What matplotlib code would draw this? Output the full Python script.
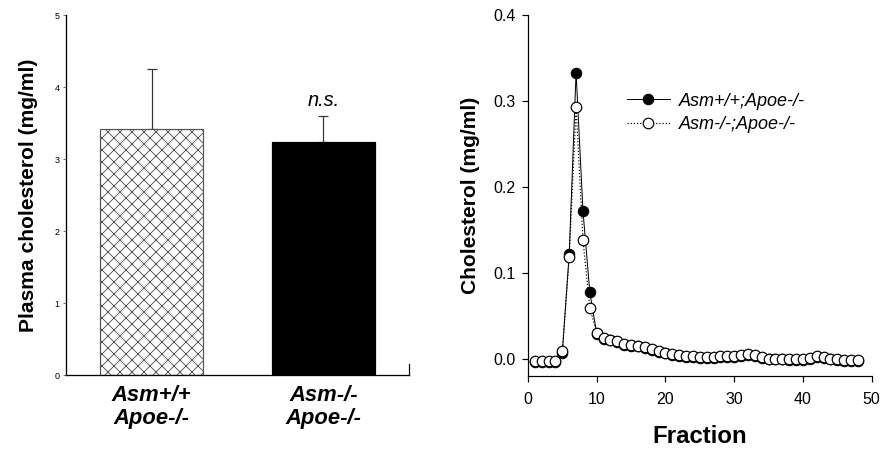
# Plasma cholesterol bar chart + FPLC fraction profile
import matplotlib.pyplot as plt

plt.rcParams['font.family'] = ['Liberation Sans', 'DejaVu Sans']
plt.rcParams['hatch.linewidth'] = 0.9

# data - left panel
groups = ['Asm+/+\nApoe-/-', 'Asm-/-\nApoe-/-']
plasma_mean = [3.42, 3.24]
plasma_err = [0.83, 0.36]

# data - right panel
fractions = list(range(1, 49))
chol_wt = [-0.004, -0.004, -0.004, -0.004, 0.007, 0.122, 0.333, 0.172, 0.077, 0.029,
           0.023, 0.021, 0.019, 0.016, 0.015, 0.014, 0.012, 0.010, 0.008, 0.006,
           0.004, 0.003, 0.002, 0.002, 0.001, 0.001, 0.001, 0.002, 0.002, 0.002,
           0.003, 0.004, 0.003, 0.001, -0.001, -0.001, -0.001, -0.002, -0.002, -0.002,
           0.000, 0.002, 0.001, -0.001, -0.002, -0.003, -0.003, -0.003]
chol_ko = [-0.003, -0.003, -0.003, -0.003, 0.009, 0.118, 0.293, 0.138, 0.059, 0.030,
           0.024, 0.022, 0.020, 0.017, 0.016, 0.015, 0.013, 0.011, 0.009, 0.007,
           0.005, 0.004, 0.003, 0.003, 0.002, 0.002, 0.002, 0.003, 0.003, 0.003,
           0.004, 0.005, 0.004, 0.002, 0.000, 0.000, 0.000, -0.001, -0.001, -0.001,
           0.001, 0.003, 0.002, 0.000, -0.001, -0.002, -0.002, -0.002]

fig = plt.figure(figsize=(882 / 72, 455 / 72), dpi=72)

# ---- left panel ----
ax1 = fig.add_axes([0.0748, 0.1758, 0.389, 0.791])
ax1.bar([0, 1], plasma_mean, width=0.6, color=['white', 'black'], edgecolor=['#555555', 'black'],
        hatch=['xx', ''], linewidth=1.2, zorder=2)
ax1.errorbar([0, 1], plasma_mean, yerr=[[0, 0], plasma_err], fmt='none', ecolor='#333333',
             elinewidth=1.2, capsize=5, capthick=1.2, zorder=1)
ax1.text(1, 3.82, 'n.s.', ha='center', va='center', fontsize=20, style='italic')
ax1.set_xlim(-0.5, 1.5)
ax1.set_ylim(0, 5)
ax1.set_yticks([0, 1, 2, 3, 4, 5])
ax1.set_xticks([0, 1])
ax1.set_xticklabels(groups, fontsize=22, fontweight='bold', style='italic', linespacing=1.1)
ax1.tick_params(axis='x', length=0, pad=10)
ax1.tick_params(axis='y', labelsize=9, direction='out', length=3, width=1.0, color='#777777')
ax1.set_ylabel('Plasma cholesterol (mg/ml)', fontsize=21, fontweight='bold', labelpad=16)
ax1.spines['top'].set_visible(False)
ax1.spines['right'].set_visible(False)
for s in ['left', 'bottom']:
    ax1.spines[s].set_linewidth(1.3)
ax1.plot([1, 1], [0, 0.03], transform=ax1.transAxes, color='black', lw=1.2, clip_on=False)

# ---- right panel ----
ax2 = fig.add_axes([0.5986, 0.1743, 0.3897, 0.7927])
ax2.plot(fractions, chol_wt, '-', color='black', lw=1.0, marker='o', markersize=10.5,
         markerfacecolor='black', markeredgecolor='black', label='Asm+/+;Apoe-/-', zorder=2)
ax2.plot(fractions, chol_ko, ':', color='black', lw=1.2, marker='o', markersize=10.5,
         markerfacecolor='white', markeredgecolor='black', markeredgewidth=1.2,
         label='Asm-/-;Apoe-/-', zorder=3)
ax2.set_xlim(0, 50)
ax2.set_ylim(-0.02, 0.4)
ax2.set_xticks([0, 10, 20, 30, 40, 50])
ax2.set_yticks([0.0, 0.1, 0.2, 0.3, 0.4])
ax2.set_yticklabels(['0.0', '0.1', '0.2', '0.3', '0.4'])
ax2.tick_params(labelsize=16, direction='out', length=6, width=1.2)
ax2.tick_params(axis='x', pad=10)
ax2.tick_params(axis='y', pad=6)
ax2.set_xlabel('Fraction', fontsize=24, fontweight='bold', labelpad=18)
ax2.set_ylabel('Cholesterol (mg/ml)', fontsize=21, fontweight='bold', labelpad=14)
ax2.spines['top'].set_visible(False)
ax2.spines['right'].set_visible(False)
for s in ['left', 'bottom']:
    ax2.spines[s].set_linewidth(1.2)
leg = ax2.legend(loc='upper left', bbox_to_anchor=(0.24, 0.83), frameon=False,
                 prop={'style': 'italic', 'size': 18}, handlelength=2.4, handletextpad=0.5,
                 labelspacing=0.35)

fig.savefig('out.png', dpi=72)
